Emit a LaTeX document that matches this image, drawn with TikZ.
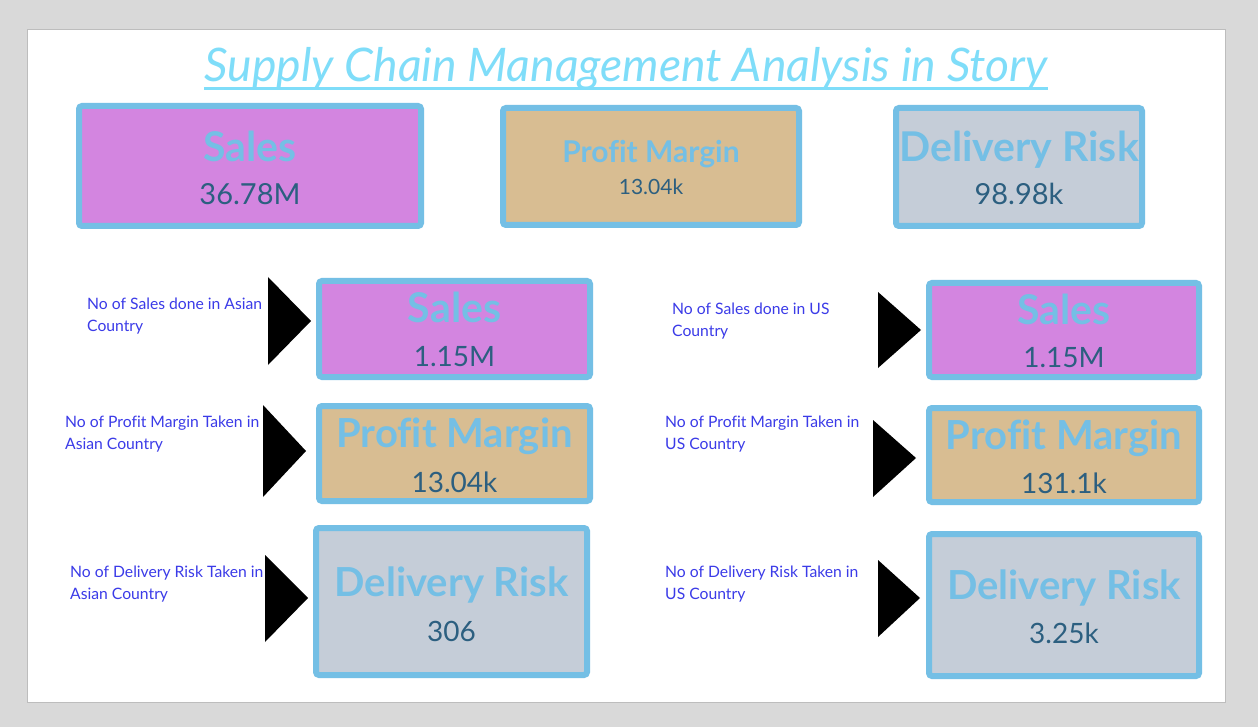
\documentclass[tikz,border=0pt]{standalone}
\usepackage{fontspec}
\setmainfont{Lato}[Ligatures=NoCommon]
\definecolor{bggray}{HTML}{D9D9D9}
\definecolor{panelline}{HTML}{BDBDBD}
\definecolor{kborder}{HTML}{74BFE5}
\definecolor{salesfill}{HTML}{D385E0}
\definecolor{profitfill}{HTML}{D8BD92}
\definecolor{riskfill}{HTML}{C5CDD8}
\definecolor{kvalue}{HTML}{2C5F80}
\definecolor{notecol}{HTML}{3B3BE8}
\definecolor{titlecol}{HTML}{7FDDF9}
\newcommand\kfs[1]{\fontsize{#1}{#1}\selectfont}
\tikzset{
  kbox/.style={draw=kborder, line width=6pt, rounded corners=3pt, inner sep=0pt},
  klabel/.style={text=kborder, anchor=base, inner sep=0pt, font=\bfseries\kfs{#1}},
  kval/.style={text=kvalue, anchor=base, inner sep=0pt, font=\kfs{#1}},
  knote/.style={text=notecol, anchor=base west, inner sep=0pt, font=\kfs{15.7}, align=left},
  kpoint/.style={fill=black}
}
\begin{document}
\begin{tikzpicture}[x=1pt,y=-1pt]
\useasboundingbox (0,0) rectangle (1258,727);
\fill[bggray] (0,0) rectangle (1258,727);
\draw[panelline, fill=white] (27.5,29.5) rectangle (1225.5,702.5);

% title
\node[text=titlecol, anchor=base, inner sep=0pt, font=\itshape\kfs{46.3}] (title) at (626,82) {Supply Chain Management Analysis in Story};
\draw[titlecol, line width=3pt] (title.base west) ++(0,7) -- ([yshift=-7pt]title.base east);

% top row
\node[kbox, fill=salesfill, minimum width=342pt, minimum height=120pt] (tsales) at (250,166) {};
\node[klabel=41] (tsalesl) at (250,162) {Sales};
\node[kval=29] (tsalesv) at (250,205) {36.78M};

\node[kbox, fill=profitfill, minimum width=296pt, minimum height=117pt] (tprofit) at (651,166.5) {};
\node[klabel=30] (tprofitl) at (651,163) {Profit Margin};
\node[kval=21] (tprofitv) at (651,195) {13.04k};

\node[kbox, fill=riskfill, minimum width=246pt, minimum height=118pt] (trisk) at (1019,167) {};
\node[klabel=41] (triskl) at (1019,162) {Delivery Risk};
\node[kval=29] (triskv) at (1019,205) {98.98k};

% Asian column
\node[kbox, fill=salesfill, minimum width=271pt, minimum height=96pt] (asales) at (454.5,329) {};
\node[klabel=41] (asalesl) at (454.5,323) {Sales};
\node[kval=28] (asalesv) at (454.5,366) {1.15M};

\node[kbox, fill=profitfill, minimum width=271pt, minimum height=95pt] (aprofit) at (454.5,453.5) {};
\node[klabel=40] (aprofitl) at (454.5,447) {Profit Margin};
\node[kval=28] (aprofitv) at (454.5,492) {13.04k};

\node[kbox, fill=riskfill, minimum width=271pt, minimum height=147pt] (arisk) at (451.5,601.5) {};
\node[klabel=40] (ariskl) at (451.5,596) {Delivery Risk};
\node[kval=28] (ariskv) at (451.5,641) {306};

% US column
\node[kbox, fill=salesfill, minimum width=270pt, minimum height=94pt] (usales) at (1064,330) {};
\node[klabel=41] (usalesl) at (1064,324) {Sales};
\node[kval=28] (usalesv) at (1064,367) {1.15M};

\node[kbox, fill=profitfill, minimum width=270pt, minimum height=94pt] (uprofit) at (1064,455) {};
\node[klabel=40] (uprofitl) at (1064,449) {Profit Margin};
\node[kval=28] (uprofitv) at (1064,493) {131.1k};

\node[kbox, fill=riskfill, minimum width=270pt, minimum height=142pt] (urisk) at (1064,605) {};
\node[klabel=40] (uriskl) at (1064,599) {Delivery Risk};
\node[kval=28] (uriskv) at (1064,643) {3.25k};

% pointers
\fill[kpoint] (268,277) -- (311,321) -- (268,365) -- cycle;
\fill[kpoint] (263,405) -- (306,451) -- (263,497) -- cycle;
\fill[kpoint] (265,555) -- (308,598) -- (265,642) -- cycle;
\fill[kpoint] (878,292) -- (921,330) -- (878,368) -- cycle;
\fill[kpoint] (873,420) -- (916,458) -- (873,497) -- cycle;
\fill[kpoint] (878,560) -- (920,598) -- (878,637) -- cycle;

% notes
\node[knote] (n1a) at (87,309) {No of Sales done in Asian};
\node[knote] (n1b) at (87,331) {Country};
\node[knote] (n2a) at (65,427) {No of Profit Margin Taken in};
\node[knote] (n2b) at (65,449) {Asian Country};
\node[knote] (n3a) at (70,577) {No of Delivery Risk Taken in};
\node[knote] (n3b) at (70,599) {Asian Country};
\node[knote] (n4a) at (672,314) {No of Sales done in US};
\node[knote] (n4b) at (672,336) {Country};
\node[knote] (n5a) at (665,427) {No of Profit Margin Taken in};
\node[knote] (n5b) at (665,449) {US Country};
\node[knote] (n6a) at (665,577) {No of Delivery Risk Taken in};
\node[knote] (n6b) at (665,599) {US Country};
\end{tikzpicture}
\end{document}
